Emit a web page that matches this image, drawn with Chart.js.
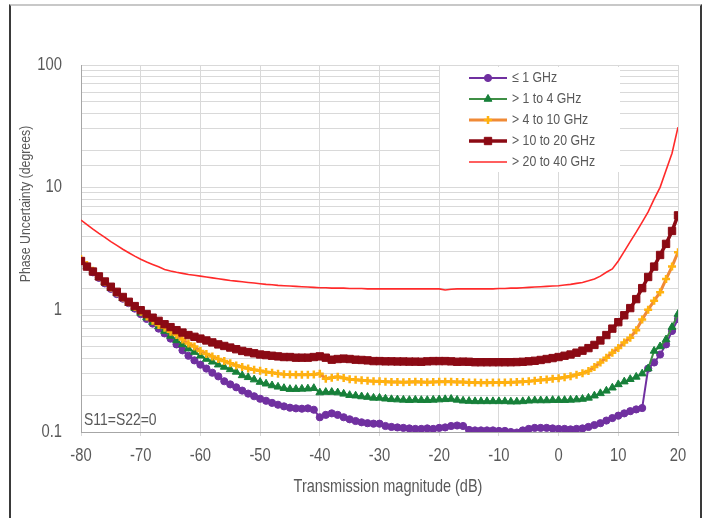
<!DOCTYPE html>
<html>
<head>
<meta charset="utf-8">
<script src="https://cdn.jsdelivr.net/npm/chart.js@4.4.1/dist/chart.umd.min.js"></script>
<style>
  html, body { margin: 0; padding: 0; background: #fff; }
  #wrap { position: relative; width: 707px; height: 518px; overflow: hidden; }
  #chart { position: absolute; left: 0; top: 0; }
  #frame { position: absolute; left: 9px; top: 4px; width: 693px; height: 540px; box-sizing: border-box;
           border: 2px solid #3a3a3a; border-top-color: #c8c8c8; }
</style>
</head>
<body>
<div id="wrap">
  <canvas id="chart" width="707" height="518"></canvas>
  <div id="frame"></div>
</div>
<script>
// Transmission magnitude (dB), one point per dB
const magnitude = [
  -80, -79, -78, -77, -76, -75, -74, -73, -72, -71,
  -70, -69, -68, -67, -66, -65, -64, -63, -62, -61,
  -60, -59, -58, -57, -56, -55, -54, -53, -52, -51,
  -50, -49, -48, -47, -46, -45, -44, -43, -42, -41,
  -40, -39, -38, -37, -36, -35, -34, -33, -32, -31,
  -30, -29, -28, -27, -26, -25, -24, -23, -22, -21,
  -20, -19, -18, -17, -16, -15, -14, -13, -12, -11,
  -10, -9, -8, -7, -6, -5, -4, -3, -2, -1,
  0, 1, 2, 3, 4, 5, 6, 7, 8, 9,
  10, 11, 12, 13, 14, 15, 16, 17, 18, 19,
  20
];

// Phase uncertainty (degrees) per band
const upTo1GHz = [
  2.5, 2.25, 2.02, 1.82, 1.64, 1.48, 1.34, 1.23, 1.13, 1.02,
  0.92, 0.84, 0.77, 0.7, 0.64, 0.58, 0.52, 0.465, 0.42, 0.385,
  0.355, 0.33, 0.305, 0.285, 0.26, 0.245, 0.232, 0.218, 0.206, 0.196,
  0.187, 0.18, 0.173, 0.167, 0.162, 0.158, 0.156, 0.155, 0.156, 0.152,
  0.132, 0.138, 0.142, 0.138, 0.132, 0.127, 0.123, 0.12, 0.118, 0.117,
  0.117, 0.112, 0.11, 0.109, 0.108, 0.107, 0.106, 0.106, 0.107, 0.106,
  0.108, 0.109, 0.112, 0.113, 0.112, 0.104, 0.103, 0.103, 0.103, 0.103,
  0.102, 0.102, 0.1, 0.099, 0.103, 0.106, 0.108, 0.108, 0.108, 0.107,
  0.106, 0.106, 0.105, 0.106, 0.107, 0.11, 0.114, 0.118, 0.124, 0.13,
  0.136, 0.142, 0.148, 0.153, 0.157, 0.33, 0.37, 0.43, 0.52, 0.67,
  0.84
];
const from1to4GHz = [
  2.5, 2.26, 2.04, 1.84, 1.66, 1.5, 1.36, 1.24, 1.13, 1.03,
  0.94, 0.86, 0.79, 0.73, 0.67, 0.61, 0.56, 0.52, 0.48, 0.45,
  0.42, 0.395, 0.375, 0.355, 0.34, 0.325, 0.31, 0.29, 0.28, 0.268,
  0.256, 0.248, 0.24, 0.234, 0.228, 0.224, 0.224, 0.225, 0.226, 0.228,
  0.21, 0.212, 0.212, 0.21, 0.205, 0.2, 0.198, 0.195, 0.193, 0.19,
  0.19, 0.187, 0.185, 0.184, 0.183, 0.182, 0.183, 0.182, 0.182, 0.183,
  0.184, 0.185, 0.186, 0.183, 0.18, 0.179, 0.178, 0.178, 0.178, 0.178,
  0.178, 0.178, 0.177, 0.177, 0.178, 0.18, 0.181, 0.181, 0.181, 0.182,
  0.182, 0.182, 0.183, 0.184, 0.186, 0.19, 0.198, 0.207, 0.217, 0.23,
  0.245, 0.258, 0.27, 0.282, 0.3, 0.33, 0.46, 0.5, 0.57, 0.72,
  0.92
];
const from4to10GHz = [
  2.6, 2.32, 2.08, 1.87, 1.68, 1.52, 1.38, 1.26, 1.15, 1.05,
  0.96, 0.88, 0.81, 0.75, 0.71, 0.66, 0.62, 0.57, 0.53, 0.5,
  0.46, 0.435, 0.415, 0.395, 0.38, 0.365, 0.35, 0.34, 0.33, 0.322,
  0.316, 0.31, 0.305, 0.3, 0.297, 0.295, 0.294, 0.294, 0.294, 0.295,
  0.3, 0.272, 0.278, 0.283, 0.276, 0.27, 0.267, 0.265, 0.262, 0.26,
  0.26, 0.258, 0.256, 0.256, 0.255, 0.256, 0.257, 0.256, 0.255, 0.256,
  0.257, 0.258, 0.257, 0.256, 0.256, 0.254, 0.254, 0.253, 0.253, 0.254,
  0.254, 0.254, 0.255, 0.256, 0.258, 0.26, 0.263, 0.266, 0.269, 0.272,
  0.275, 0.28, 0.286, 0.294, 0.302, 0.315, 0.34, 0.37, 0.405, 0.445,
  0.485, 0.54, 0.59, 0.68, 0.83, 1.0, 1.18, 1.39, 1.78, 2.25,
  2.95
];
const from10to20GHz = [
  2.5, 2.25, 2.05, 1.87, 1.7, 1.54, 1.4, 1.27, 1.16, 1.07,
  0.99, 0.92, 0.86, 0.81, 0.76, 0.72, 0.68, 0.65, 0.62, 0.6,
  0.58, 0.56, 0.54, 0.52, 0.505, 0.49, 0.475, 0.46, 0.45, 0.44,
  0.43, 0.425, 0.42, 0.415, 0.41, 0.41, 0.405, 0.405, 0.405, 0.41,
  0.415, 0.405, 0.39, 0.395, 0.398, 0.395, 0.39, 0.388, 0.385, 0.38,
  0.38, 0.378, 0.378, 0.377, 0.377, 0.376, 0.376, 0.375, 0.378, 0.38,
  0.38, 0.38, 0.378, 0.375, 0.376, 0.375, 0.372, 0.372, 0.372, 0.372,
  0.372, 0.372, 0.372, 0.373, 0.375, 0.378, 0.382, 0.388, 0.395, 0.402,
  0.41, 0.42, 0.43, 0.445, 0.462, 0.485, 0.515, 0.56, 0.62, 0.7,
  0.79, 0.9, 1.03, 1.22, 1.5, 1.85, 2.25, 2.8, 3.45, 4.4,
  5.9
];
const from20to40GHz = [
  5.4, 4.95, 4.55, 4.2, 3.9, 3.6, 3.35, 3.12, 2.92, 2.74,
  2.58, 2.45, 2.34, 2.24, 2.13, 2.07, 2.02, 1.98, 1.94, 1.91,
  1.88, 1.85, 1.82, 1.79, 1.76, 1.73, 1.71, 1.69, 1.67, 1.65,
  1.63, 1.61, 1.6, 1.58, 1.57, 1.56, 1.55, 1.54, 1.53, 1.52,
  1.51, 1.51, 1.5, 1.5, 1.5, 1.49, 1.49, 1.49, 1.48, 1.48,
  1.48, 1.48, 1.48, 1.48, 1.48, 1.48, 1.48, 1.48, 1.48, 1.48,
  1.48, 1.45, 1.47, 1.48, 1.48, 1.48, 1.48, 1.48, 1.48, 1.48,
  1.49, 1.49, 1.5, 1.5, 1.51, 1.52, 1.53, 1.54, 1.55, 1.56,
  1.57, 1.59, 1.61, 1.64, 1.67, 1.72, 1.78, 1.88, 2.02, 2.15,
  2.5, 3.0, 3.6, 4.3, 5.2, 6.3, 8.0, 10, 13.8, 19,
  31
];

const seriesNames = ['\u2264 1 GHz', '> 1 to 4 GHz', '> 4 to 10 GHz', '> 10 to 20 GHz', '> 20 to 40 GHz'];
const xTicks = [-80, -70, -60, -50, -40, -30, -20, -10, 0, 10, 20];
const yLabels = [0.1, 1, 10, 100];

const FONT = '"Liberation Sans", Arial, sans-serif';
const NARROW = 0.82;   // squeeze to look like the condensed face of the original
const TEXT = '#595959';
const GRID = '#d9d9d9';

Chart.defaults.font.family = FONT;
Chart.defaults.color = TEXT;

const pts = vals => magnitude.map((x, i) => ({ x: x, y: vals[i] }));

function narrowText(ctx, text, x, y, size, align, baseline, rot) {
  ctx.save();
  ctx.translate(x, y);
  if (rot) ctx.rotate(rot);
  ctx.scale(NARROW, 1);
  ctx.font = size + 'px ' + FONT;
  ctx.fillStyle = TEXT;
  ctx.textAlign = align;
  ctx.textBaseline = baseline;
  ctx.fillText(text, 0, 0);
  ctx.restore();
}

// legend box inside the plot (top right), like the original
const legendBox = {
  id: 'legendBox',
  beforeDatasetsDraw(chart) {
    const ctx = chart.ctx;
    ctx.save();
    ctx.fillStyle = '#fff';
    ctx.fillRect(440, 67, 180, 105);
    chart.data.datasets.forEach((ds, i) => {
      const y = 78 + i * 21;
      ctx.strokeStyle = ds.borderColor;
      ctx.lineWidth = ds.borderWidth;
      ctx.beginPath();
      ctx.moveTo(469, y);
      ctx.lineTo(507, y);
      ctx.stroke();
      if (ds.pointRadius > 0) {
        ctx.fillStyle = ds.pointBackgroundColor;
        ctx.strokeStyle = ds.pointBorderColor;
        ctx.lineWidth = ds.pointBorderWidth;
        Chart.helpers.drawPoint(ctx, {
          pointStyle: ds.pointStyle, radius: ds.pointRadius,
          rotation: 0, borderWidth: ds.pointBorderWidth
        }, 488, y);
      }
      narrowText(ctx, ds.label, 512, y, 15, 'left', 'middle');
    });
    ctx.restore();
  }
};

// tick labels, axis titles and the note
const labels = {
  id: 'labels',
  afterDraw(chart) {
    const ctx = chart.ctx;
    const xs = chart.scales.x, ys = chart.scales.y;
    xTicks.forEach(v => narrowText(ctx, String(v), xs.getPixelForValue(v), 456, 18, 'center', 'middle'));
    yLabels.forEach(v => narrowText(ctx, String(v), 62, ys.getPixelForValue(v), 18, 'right', 'middle'));

    narrowText(ctx, 'Transmission magnitude (dB)', 388, 492, 17.7, 'center', 'alphabetic');
    narrowText(ctx, 'S11=S22=0', 84, 425, 17, 'left', 'alphabetic');
    narrowText(ctx, 'Phase Uncertainty (degrees)', 26, 204, 15, 'center', 'middle', -Math.PI / 2);
  }
};

new Chart(document.getElementById('chart'), {
  type: 'line',
  data: {
    datasets: [
      {
        label: seriesNames[0], data: pts(upTo1GHz), order: 5,
        borderColor: '#7030A0', borderWidth: 2,
        pointStyle: 'circle', pointRadius: 3.6, pointBorderWidth: 1,
        pointBackgroundColor: '#7030A0', pointBorderColor: '#7030A0'
      },
      {
        label: seriesNames[1], data: pts(from1to4GHz), order: 4,
        borderColor: '#3F8F45', borderWidth: 2,
        pointStyle: 'triangle', pointRadius: 4.5, pointBorderWidth: 1,
        pointBackgroundColor: '#17803A', pointBorderColor: '#17803A'
      },
      {
        label: seriesNames[2], data: pts(from4to10GHz), order: 3,
        borderColor: '#F08A36', borderWidth: 3,
        pointStyle: 'cross', pointRadius: 4, pointBorderWidth: 2.5,
        pointBackgroundColor: '#FFB20F', pointBorderColor: '#FFB20F'
      },
      {
        label: seriesNames[3], data: pts(from10to20GHz), order: 2,
        borderColor: '#8B0A14', borderWidth: 3.5,
        pointStyle: 'rect', pointRadius: 5.2, pointBorderWidth: 1,
        pointBackgroundColor: '#8B0A14', pointBorderColor: '#8B0A14'
      },
      {
        label: seriesNames[4], data: pts(from20to40GHz), order: 1,
        borderColor: '#FF2A2A', borderWidth: 1.6,
        pointStyle: 'circle', pointRadius: 0, pointBorderWidth: 0,
        pointBackgroundColor: '#FF2A2A', pointBorderColor: '#FF2A2A'
      }
    ]
  },
  options: {
    responsive: false,
    animation: false,
    devicePixelRatio: 1,
    layout: { padding: { left: 0, right: 29, top: 65, bottom: 0 } },
    plugins: {
      legend: { display: false },
      tooltip: { enabled: false }
    },
    elements: { line: { tension: 0 } },
    scales: {
      x: {
        type: 'linear',
        min: -80,
        max: 20,
        afterFit: s => { s.height = 86; },
        afterBuildTicks: s => { s.ticks = xTicks.map(v => ({ value: v })); },
        ticks: { display: false },
        grid: { color: GRID, tickLength: 4, drawTicks: true },
        border: { color: '#a6a6a6' }
      },
      y: {
        type: 'logarithmic',
        min: 0.1,
        max: 100,
        afterFit: s => { s.width = 81; },
        ticks: { display: false, autoSkip: false },
        grid: { color: GRID, drawTicks: false },
        border: { color: '#a6a6a6' }
      }
    }
  },
  plugins: [legendBox, labels]
});
</script>
</body>
</html>
